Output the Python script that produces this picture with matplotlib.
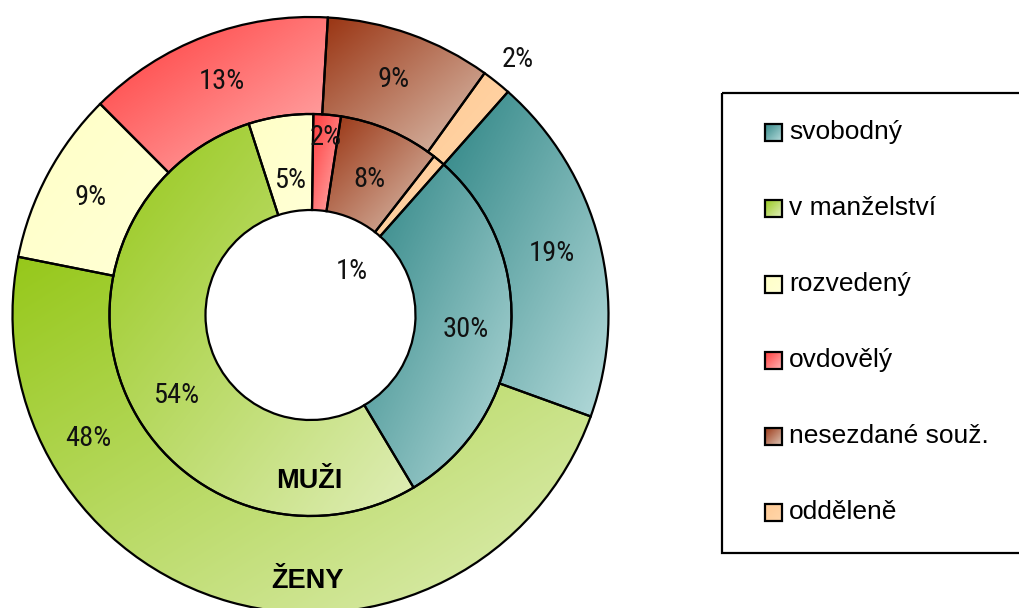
import matplotlib.pyplot as plt
import numpy as np
from matplotlib.colors import LinearSegmentedColormap
from matplotlib.patches import Rectangle
from matplotlib import font_manager


categories = ["svobodný", "v manželství", "rozvedený", "ovdovělý",
              "nesezdané souž.", "odděleně"]
zeny = [19.0, 47.6, 9.4, 13.4, 9.0, 1.6]
muzi = [29.9, 53.6, 5.2, 2.2, 8.1, 1.0]
ring_names = ["ŽENY", "MUŽI"]

# dark (top-left) -> light (bottom-right) gradient for each category
grad_colors = [
    ("#2e8585", "#b4dada"),
    ("#96c81a", "#e0eeb8"),
    ("#ffffc6", "#ffffd6"),
    ("#ff3a3a", "#ffb2b2"),
    ("#993311", "#dcc2b2"),
    ("#ffca94", "#ffd6aa"),
]


def pick_font(*names):
    for n in names:
        try:
            font_manager.findfont(n, fallback_to_default=False)
            return n
        except ValueError:
            pass
    return "DejaVu Sans"


narrow = pick_font("Liberation Sans Narrow", "Arial Narrow", "Noto Sans Condensed",
                   "DejaVu Sans Condensed", "Roboto Condensed", "Open Sans Condensed",
                   "Liberation Sans")
sans = pick_font("Liberation Sans", "Arial", "DejaVu Sans")

W, H = 1019, 608
fig = plt.figure(figsize=(W / 100, H / 100), dpi=100)

# pie axes in pixel units, centred at (310.5, 315) from top-left
cx, cy, half = 310.5, 315, 330
ax = fig.add_axes([(cx - half) / W, (H - cy - half) / H, 2 * half / W, 2 * half / H])

rings = [
    (zeny, 298, 97),   # outer ring
    (muzi, 201, 96),   # inner ring
]
start = 90 - 41.5

# label tweaks: (ring, index) -> (angle from top clockwise or None, radius)
label_pos = {
    (0, 1): (241, 254),
    (0, 5): (39, 329),
    (1, 0): (None, 156),
    (1, 1): (239, 157),
    (1, 2): (None, 136),
    (1, 3): (None, 178),
    (1, 4): (None, 148),
    (1, 5): (44, 60),
}

N = 200
gx, gy = np.meshgrid(np.linspace(0, 1, N), np.linspace(0, 1, N))
grad = (gx + (1 - gy)) / 2  # origin lower: top-left = 0

for ri, (vals, radius, width) in enumerate(rings):
    wedges, _ = ax.pie(vals, radius=radius, startangle=start, counterclock=False,
                       wedgeprops=dict(width=width, edgecolor="black",
                                       linewidth=1.6, facecolor="none"))
    total = sum(vals)
    for i, w in enumerate(wedges):
        w.set_zorder(3)
        x0, y0, x1, y1 = w.get_path().get_extents().extents
        cmap = LinearSegmentedColormap.from_list("g%d" % i, grad_colors[i])
        im = ax.imshow(grad, cmap=cmap, vmin=0, vmax=1, origin="lower",
                       extent=(x0, x1, y0, y1), interpolation="bilinear",
                       zorder=2, aspect="auto")
        im.set_clip_path(w)

        mid = (w.theta1 + w.theta2) / 2
        rmid = radius - width / 2
        a, r = label_pos.get((ri, i), (None, rmid))
        if a is not None:
            mid = 90 - a
        t = np.deg2rad(mid)
        ax.text(r * np.cos(t), r * np.sin(t), "%d%%" % round(vals[i] / total * 100),
                ha="center", va="center", fontsize=20.5, family=narrow,
                fontstretch="condensed", color="#111111", zorder=5)

# series names
ax.text(-2.5, -266, ring_names[0], ha="center", va="center", fontsize=19.5,
        fontweight="bold", family=sans, zorder=5)
ax.text(-1.5, -166, ring_names[1], ha="center", va="center", fontsize=19.5,
        fontweight="bold", family=sans, zorder=5)

ax.set_xlim(-half, half)
ax.set_ylim(-half, half)
ax.set_aspect("equal")
ax.axis("off")

# legend drawn in pixel coordinates
lax = fig.add_axes([0, 0, 1, 1])
lax.patch.set_visible(False)
lax.add_patch(Rectangle((722, 93), 320, 460, fill=False, edgecolor="black",
                        linewidth=1.6))
sq = 17
for i, name in enumerate(categories):
    yc = 132 + 76 * i
    cmap = LinearSegmentedColormap.from_list("l%d" % i, grad_colors[i])
    lax.imshow(grad[::-1], cmap=cmap, vmin=0, vmax=1, origin="upper",
               extent=(765, 765 + sq, yc + sq / 2, yc - sq / 2),
               interpolation="bilinear", aspect="auto", zorder=2)
    lax.add_patch(Rectangle((765, yc - sq / 2), sq, sq, fill=False,
                            edgecolor="black", linewidth=1.6, zorder=3))
    lax.text(789, yc, name, ha="left", va="center", fontsize=19, family=sans)
lax.set_xlim(0, W)
lax.set_ylim(H, 0)
lax.axis("off")

fig.savefig("out.png", dpi=100)
